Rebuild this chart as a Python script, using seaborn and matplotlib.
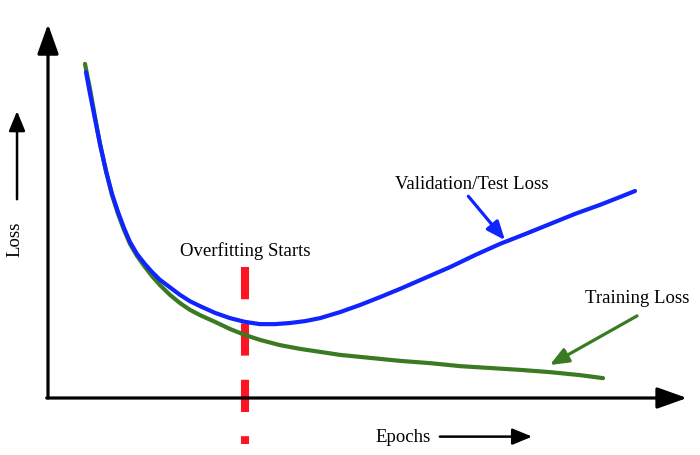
import matplotlib
matplotlib.use('Agg')
import matplotlib.pyplot as plt
import seaborn as sns

# Values (epochs 0-100, loss 0-10, arbitrary units)
train_epochs = [5.85, 6.65, 7.44, 8.23, 9.18, 10.13, 11.08, 12.03, 12.97, 14.08, 15.35, 16.46,
                17.72, 19.30, 20.89, 22.47, 24.05, 26.42, 28.80, 31.17, 33.54, 36.71, 39.87,
                43.04, 46.20, 50.95, 55.70, 60.44, 65.19, 69.94, 74.68, 79.43, 84.18, 87.82]
train_loss = [8.91, 8.24, 7.49, 6.77, 6.05, 5.41, 4.91, 4.48, 4.11, 3.79, 3.49, 3.25,
              3.01, 2.75, 2.53, 2.35, 2.21, 2.03, 1.84, 1.68, 1.55, 1.41, 1.31,
              1.23, 1.15, 1.07, 0.99, 0.93, 0.85, 0.80, 0.75, 0.69, 0.61, 0.53]

val_epochs = [6.01, 6.65, 7.44, 8.23, 9.18, 10.13, 11.08, 12.03, 12.97, 14.08, 15.35, 16.46,
              17.72, 19.30, 20.89, 22.47, 24.05, 26.42, 28.80, 31.17, 33.54, 35.92, 38.29,
              40.66, 43.04, 46.20, 49.37, 52.53, 55.70, 59.65, 63.61, 67.56, 71.52, 75.47,
              79.43, 83.39, 87.34, 90.51, 92.88]
val_loss = [8.69, 8.11, 7.44, 6.77, 6.05, 5.44, 4.96, 4.53, 4.16, 3.84, 3.57, 3.36,
            3.15, 2.95, 2.75, 2.58, 2.45, 2.27, 2.13, 2.03, 1.97, 1.97, 2.00,
            2.05, 2.13, 2.29, 2.48, 2.69, 2.91, 3.20, 3.49, 3.81, 4.11, 4.37,
            4.64, 4.91, 5.15, 5.36, 5.52]

overfit_epoch = 31.17
overfit_span = [3.49, -1.23]

labels = ['Validation/Test Loss', 'Training Loss', 'Overfitting Starts', 'Epochs', 'Loss']

sns.set_style('white')
plt.rcParams['font.family'] = ['Liberation Serif', 'DejaVu Serif']
plt.rcParams['text.color'] = 'black'

BLUE = '#0f24ff'
GREEN = '#3a7a22'
RED = '#ff1424'

fig = plt.figure(figsize=(7, 4.56), dpi=100)
ax = fig.add_axes([0, 0, 1, 1])
ax.set_xlim(-7.595, 103.16)
ax.set_ylim(-1.52, 10.64)
ax.axis('off')

# red dashed marker
ax.plot([overfit_epoch, overfit_epoch], overfit_span, color=RED, lw=5.8,
        dashes=(4, 3), solid_capstyle='butt', dash_capstyle='butt', zorder=1)

# curves
sns.lineplot(x=train_epochs, y=train_loss, color=GREEN, lw=3, ax=ax, zorder=2)
sns.lineplot(x=val_epochs, y=val_loss, color=BLUE, lw=3, ax=ax, zorder=3)

# main axes with arrows
big = dict(arrowstyle='-|>,head_length=0.7,head_width=0.25', mutation_scale=26,
           lw=2.3, color='black', shrinkA=0, shrinkB=0)
ax.annotate('', xy=(0, 9.97), xytext=(0, 0), arrowprops=big, annotation_clip=False)
ax.annotate('', xy=(101.1, 0), xytext=(-0.2, 0), arrowprops=big, annotation_clip=False)

# annotation arrows
def pointer(color):
    return dict(arrowstyle='-|>,head_length=0.8,head_width=0.33', mutation_scale=14,
                lw=2.3, color=color, shrinkA=0, shrinkB=0)

ax.annotate('', xy=(72.3, 4.21), xytext=(66.5, 5.38), arrowprops=pointer(BLUE))
ax.annotate('', xy=(79.4, 0.88), xytext=(93.2, 2.19), arrowprops=pointer(GREEN))

small = dict(arrowstyle='-|>,head_length=0.8,head_width=0.33', mutation_scale=15,
             lw=1.8, color='black', shrinkA=0, shrinkB=0)
ax.annotate('', xy=(-4.9, 7.65), xytext=(-4.9, 5.3), arrowprops=small, annotation_clip=False)
ax.annotate('', xy=(76.6, -1.03), xytext=(62.0, -1.03), arrowprops=small, annotation_clip=False)

# text labels
fs = 13.5
ax.text(67.1, 5.71, labels[0], fontsize=fs, ha='center', va='center', color='black')
ax.text(93.2, 2.69, labels[1], fontsize=fs, ha='center', va='center', color='black')
ax.text(31.2, 3.95, labels[2], fontsize=fs, ha='center', va='center', color='black')
ax.text(56.2, -1.03, labels[3], fontsize=fs, ha='center', va='center', color='black')
ax.text(-5.2, 4.27, labels[4], fontsize=fs, ha='center', va='center', rotation=90,
        color='black')

plt.savefig('out.png', dpi=100)
